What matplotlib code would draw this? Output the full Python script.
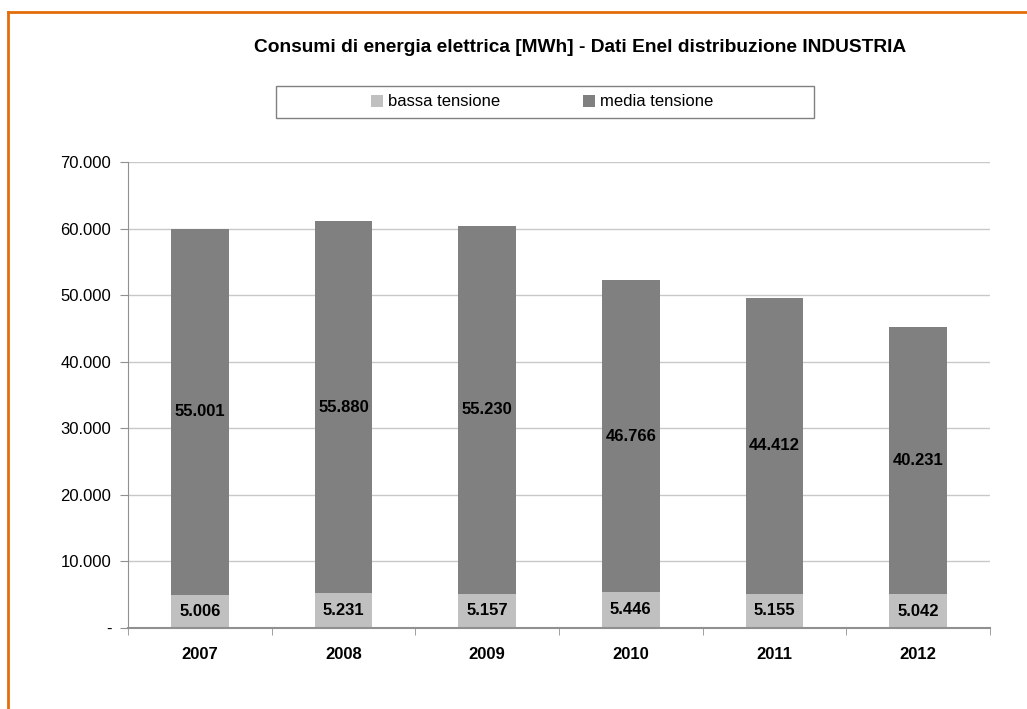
import matplotlib
matplotlib.use("Agg")
import numpy as np
from matplotlib import pyplot as plt
from matplotlib.lines import Line2D
from matplotlib.patches import Rectangle
from matplotlib.ticker import FuncFormatter

years = ["2007", "2008", "2009", "2010", "2011", "2012"]
bassa = [5006, 5231, 5157, 5446, 5155, 5042]
media = [55001, 55880, 55230, 46766, 44412, 40231]

plt.rcParams['font.family'] = ['Liberation Sans', 'DejaVu Sans']


def fmt_it(v):
    return f"{v:,.0f}".replace(",", ".")


W, H = 1027, 709
fig = plt.figure(figsize=(W / 100, H / 100), dpi=100)
ax = fig.add_axes([128 / W, 1 - 628 / H, (990 - 128) / W, (628 - 162) / H])

x = np.arange(len(years))
c_bassa = "#c0c0c0"
c_media = "#808080"
ax.bar(x, bassa, width=0.4, color=c_bassa, label="bassa tensione", zorder=2)
ax.bar(x, media, width=0.4, bottom=bassa, color=c_media, label="media tensione", zorder=2)

# value labels
for i in range(len(years)):
    ax.text(x[i], bassa[i] / 2, fmt_it(bassa[i]), ha="center", va="center",
            fontsize=12, fontweight="bold", color="black", zorder=3)
    ax.text(x[i], bassa[i] + media[i] / 2, fmt_it(media[i]), ha="center", va="center",
            fontsize=12, fontweight="bold", color="black", zorder=3)

ax.set_xlim(-0.5, len(years) - 0.5)
ax.set_ylim(0, 70000)
ax.set_yticks(np.arange(0, 70001, 10000))
ax.yaxis.set_major_formatter(FuncFormatter(lambda v, p: "-" if v == 0 else fmt_it(v)))
ax.grid(axis="y", color="#c8c8c8", linewidth=1, zorder=0)
ax.set_axisbelow(True)

ax.set_xticks(x)
ax.set_xticklabels(years, fontsize=12, fontweight="bold")
ax.set_xticks(np.arange(-0.5, len(years)), minor=True)
ax.tick_params(axis="x", which="major", length=0, pad=14)
ax.tick_params(axis="x", which="minor", length=5, color="#909090", direction="out")
ax.tick_params(axis="y", length=6, color="#909090", labelsize=12, pad=6)

for s in ["top", "right"]:
    ax.spines[s].set_visible(False)
ax.spines["left"].set_color("#909090")
ax.spines["bottom"].set_color("#909090")
ax.spines["bottom"].set_linewidth(1.5)

fig.text(580 / W, 1 - 48 / H, "Consumi di energia elettrica [MWh] - Dati Enel distribuzione INDUSTRIA",
         ha="center", va="center", fontsize=13.8, fontweight="bold")

# legend box
fig.add_artist(Rectangle((276 / W, 1 - 118 / H), (814 - 276) / W, 32 / H, transform=fig.transFigure,
                         facecolor="white", edgecolor="#808080", linewidth=1))
leg = fig.legend(loc="center", bbox_to_anchor=(542 / W, 1 - 102 / H), ncol=2, fontsize=12,
                 frameon=False, handlelength=0.7, handleheight=0.7, handletextpad=0.3,
                 borderaxespad=0, columnspacing=5)

# orange outer frame (cut at right and bottom)
fig.add_artist(Line2D([8 / W, 1.0], [1 - 12 / H, 1 - 12 / H], transform=fig.transFigure,
                      color="#e46c0a", linewidth=2))
fig.add_artist(Line2D([8 / W, 8 / W], [0.0, 1 - 12 / H], transform=fig.transFigure,
                      color="#e46c0a", linewidth=2))

fig.savefig("out.png", dpi=100)
